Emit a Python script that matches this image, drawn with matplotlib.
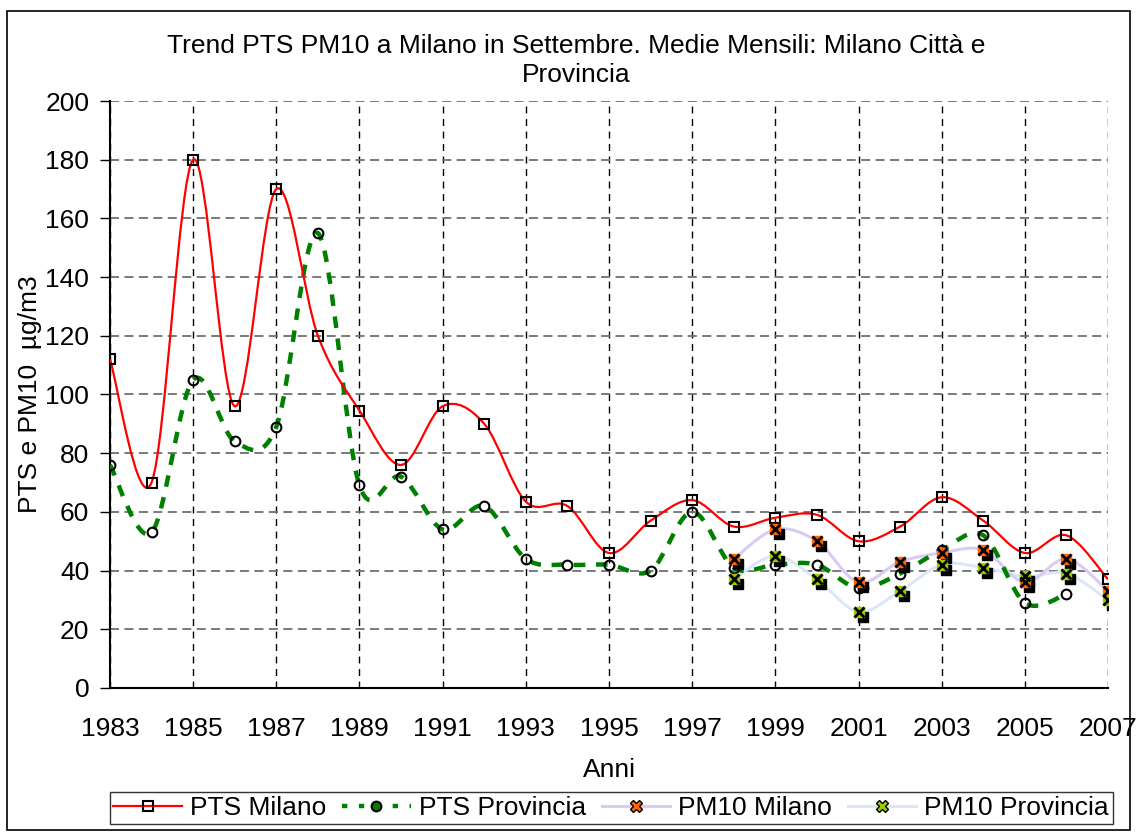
import numpy as np
import matplotlib.pyplot as plt
from matplotlib.path import Path
from matplotlib.patches import PathPatch, Rectangle
from matplotlib.lines import Line2D
from matplotlib.transforms import ScaledTranslation

plt.rcParams['font.family'] = ['Liberation Sans', 'DejaVu Sans']

years = np.arange(1983, 2008)
pts_milano = [112, 70, 180, 96, 170, 120, 94.5, 76, 96, 90, 63.5, 62, 46, 57,
              64, 55, 58, 59, 50, 55, 65, 57, 46, 52, 37]
pts_prov = [76, 53, 105, 84, 89, 155, 69, 72, 54, 62, 44, 42, 42, 40,
            60, 41, 42, 42, 34, 39, 47, 52, 29, 32]
pm10_years = np.arange(1998, 2008)
pm10_milano = [44, 54, 50, 36, 43, 46, 47, 36, 44, 33]
pm10_prov = [37, 45, 37, 26, 33, 42, 41, 38, 39, 30]


def smooth_path(x, y):
    # Bezier curve through the points (like Excel's smoothed line)
    x = np.asarray(x, float)
    y = np.asarray(y, float)
    n = len(x)
    px = np.concatenate([[x[0]], x, [x[-1]]])
    py = np.concatenate([[y[0]], y, [y[-1]]])
    verts = [(x[0], y[0])]
    codes = [Path.MOVETO]
    for i in range(n - 1):
        j = i + 1
        c1 = (px[j] + (px[j + 1] - px[j - 1]) / 6, py[j] + (py[j + 1] - py[j - 1]) / 6)
        c2 = (px[j + 1] - (px[j + 2] - px[j]) / 6, py[j + 1] - (py[j + 2] - py[j]) / 6)
        verts += [c1, c2, (x[i + 1], y[i + 1])]
        codes += [Path.CURVE4] * 3
    return Path(verts, codes)


fs = 19
fig = plt.figure(figsize=(11.36, 8.32), dpi=100)
fig.patches.append(Rectangle((0.006, 0.002), 0.989, 0.985, transform=fig.transFigure,
                             fill=False, edgecolor='black', lw=1.2))
ax = fig.add_axes([0.0968, 0.1731, 0.8786, 0.7055])

ax.add_patch(PathPatch(smooth_path(pm10_years, pm10_prov), fill=False,
                       edgecolor='#dde6f8', lw=2.2, zorder=2))
ax.add_patch(PathPatch(smooth_path(pm10_years, pm10_milano), fill=False,
                       edgecolor='#dacbf6', lw=2.2, zorder=2))
ax.add_patch(PathPatch(smooth_path(years[:len(pts_prov)], pts_prov), fill=False,
                       edgecolor='#008000', lw=3.2, linestyle=(0, (2.6, 2.4)), zorder=3))
ax.add_patch(PathPatch(smooth_path(years, pts_milano), fill=False,
                       edgecolor='#ff0000', lw=1.6, zorder=4))

ax.plot(years, pts_milano, 's', ms=7, mfc='none', mec='black', mew=1.5, zorder=5)
ax.plot(years[:len(pts_prov)], pts_prov, 'o', ms=7, mfc='none', mec='black', mew=1.5, zorder=5)

shadow = ax.transData + ScaledTranslation(4 / 100, -5 / 100, fig.dpi_scale_trans)
for vals, col in [(pm10_milano, '#ff6600'), (pm10_prov, '#99cc00')]:
    ax.plot(pm10_years, vals, 's', ms=7.5, color='black', transform=shadow, zorder=5)
    ax.plot(pm10_years, vals, 's', ms=7.5, color=col, zorder=6)
    ax.plot(pm10_years, vals, 'x', ms=7.5, mec='black', mew=2, zorder=7)

ax.set_xlim(1983, 2007)
ax.set_ylim(0, 200)
ax.set_xticks(np.arange(1983, 2008, 2))
ax.set_yticks(np.arange(0, 201, 20))
ax.tick_params(axis='both', labelsize=fs)
ax.tick_params(axis='x', length=0, pad=21)
ax.tick_params(axis='y', length=7, direction='out', width=1, pad=8)
ax.yaxis.grid(True, color='#707070', linestyle=(0, (5, 3)), lw=1.3)
ax.xaxis.grid(True, color='black', linestyle=(0, (5, 4)), lw=1)
ax.set_axisbelow(True)
for s in ['top', 'right']:
    ax.spines[s].set_visible(False)
ax.spines['left'].set_linewidth(1.5)
ax.spines['bottom'].set_linewidth(1.5)

fig.text(0.507, 0.9595, 'Trend PTS PM10 a Milano in Settembre. Medie Mensili: Milano Città e\nProvincia',
         fontsize=fs, ha='center', va='top', linespacing=1.3)
ax.set_xlabel('Anni', fontsize=fs, labelpad=12)
ax.set_ylabel('PTS e PM10  µg/m3', fontsize=fs, labelpad=2)

handles = [
    Line2D([], [], color='red', lw=1.6, marker='s', ms=7, mfc='none', mec='black', mew=1.5),
    Line2D([], [], color='#008000', lw=3.2, linestyle=(0, (1.2, 2.6)), marker='o', ms=7,
           mfc='#008000', mec='black', mew=1.5),
    Line2D([], [], color='#dacbf6', lw=2.2, marker='X', ms=8, mfc='#ff6600', mec='black'),
    Line2D([], [], color='#dde6f8', lw=2.2, marker='X', ms=8, mfc='#99cc00', mec='black'),
]
labels = ['PTS Milano', 'PTS Provincia', 'PM10 Milano', 'PM10 Provincia']
fig.legend(handles, labels, loc='lower center', bbox_to_anchor=(0.538, 0.003), ncol=4,
           fontsize=fs, frameon=True, fancybox=False, edgecolor='black', handlelength=2.6,
           handletextpad=0.3, columnspacing=0.6, borderpad=0.15, borderaxespad=0.2)

fig.savefig('out.png', dpi=100)
